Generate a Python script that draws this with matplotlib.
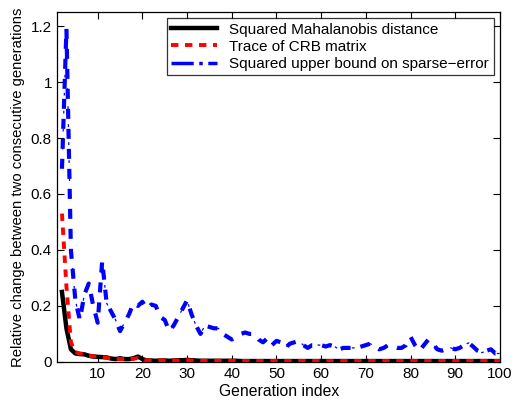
import matplotlib
matplotlib.use("Agg")
import matplotlib.pyplot as plt
from matplotlib.lines import Line2D

plt.rcParams['font.family'] = ['Liberation Sans', 'DejaVu Sans']

generations = list(range(2, 101))

mahalanobis = [
    0.25, 0.12, 0.045, 0.030, 0.028, 0.027, 0.022, 0.019, 0.018,          # 2-10
    0.017, 0.016, 0.012, 0.010, 0.013, 0.010, 0.010, 0.013, 0.019, 0.010,  # 11-20
    0.005, 0.005, 0.004, 0.005, 0.005, 0.004, 0.005, 0.006, 0.006, 0.007,  # 21-30
    0.006, 0.005, 0.004, 0.004, 0.004, 0.004, 0.004, 0.004, 0.004, 0.004,  # 31-40
    0.004, 0.003, 0.003, 0.003, 0.003, 0.003, 0.003, 0.003, 0.003, 0.003,  # 41-50
    0.003, 0.003, 0.003, 0.003, 0.003, 0.003, 0.003, 0.003, 0.003, 0.003,  # 51-60
    0.003, 0.003, 0.003, 0.003, 0.003, 0.003, 0.003, 0.003, 0.003, 0.003,  # 61-70
    0.003, 0.003, 0.003, 0.003, 0.003, 0.003, 0.003, 0.003, 0.003, 0.003,  # 71-80
    0.003, 0.003, 0.003, 0.003, 0.003, 0.003, 0.003, 0.003, 0.003, 0.003,  # 81-90
    0.003, 0.003, 0.003, 0.003, 0.003, 0.003, 0.003, 0.003, 0.003, 0.003,  # 91-100
]

crb_trace = [
    0.53, 0.27, 0.070, 0.035, 0.030, 0.028, 0.022, 0.020, 0.020,          # 2-10
    0.018, 0.015, 0.012, 0.012, 0.010, 0.010, 0.010, 0.011, 0.014, 0.008,  # 11-20
    0.005, 0.005, 0.005, 0.005, 0.005, 0.004, 0.005, 0.005, 0.006, 0.006,  # 21-30
    0.005, 0.005, 0.004, 0.004, 0.004, 0.004, 0.004, 0.004, 0.004, 0.004,  # 31-40
    0.004, 0.003, 0.003, 0.003, 0.003, 0.003, 0.003, 0.003, 0.003, 0.003,  # 41-50
    0.003, 0.003, 0.003, 0.003, 0.003, 0.003, 0.003, 0.003, 0.003, 0.003,  # 51-60
    0.003, 0.003, 0.003, 0.003, 0.003, 0.003, 0.003, 0.003, 0.003, 0.003,  # 61-70
    0.003, 0.003, 0.003, 0.003, 0.003, 0.003, 0.003, 0.003, 0.003, 0.003,  # 71-80
    0.003, 0.003, 0.003, 0.003, 0.003, 0.003, 0.003, 0.003, 0.003, 0.003,  # 81-90
    0.003, 0.003, 0.003, 0.003, 0.003, 0.003, 0.003, 0.003, 0.003, 0.003,  # 91-100
]

sparse_bound = [
    0.69, 1.19, 0.40, 0.22, 0.15, 0.24, 0.28, 0.20, 0.14,                 # 2-10
    0.36, 0.21, 0.18, 0.15, 0.11, 0.14, 0.17, 0.21, 0.20, 0.215,          # 11-20
    0.19, 0.205, 0.20, 0.16, 0.15, 0.11, 0.13, 0.16, 0.19, 0.22,          # 21-30
    0.17, 0.13, 0.10, 0.13, 0.125, 0.12, 0.12, 0.10, 0.09, 0.08,          # 31-40
    0.09, 0.10, 0.105, 0.10, 0.10, 0.08, 0.07, 0.085, 0.06, 0.075,        # 41-50
    0.07, 0.05, 0.065, 0.07, 0.075, 0.06, 0.05, 0.06, 0.06, 0.06,         # 51-60
    0.055, 0.06, 0.055, 0.045, 0.05, 0.05, 0.05, 0.05, 0.055, 0.06,       # 61-70
    0.065, 0.055, 0.045, 0.05, 0.06, 0.055, 0.05, 0.05, 0.06, 0.09,       # 71-80
    0.06, 0.04, 0.06, 0.08, 0.065, 0.045, 0.04, 0.045, 0.05, 0.045,       # 81-90
    0.05, 0.06, 0.068, 0.055, 0.04, 0.033, 0.04, 0.045, 0.03, 0.03,       # 91-100
]

series_labels = [
    "Squared Mahalanobis distance",
    "Trace of CRB matrix",
    "Squared upper bound on sparse\u2212error",
]

fig = plt.figure(figsize=(5.18, 4.03), dpi=100)
ax = fig.add_axes([0.111, 0.102, 0.854, 0.868])

# Dash-dot curve: thick dashes with thin dots between them
ax.plot(generations, sparse_bound, color="#0000ff", lw=3.0,
        linestyle=(0, (2.4, 2.4)), zorder=2)
ax.plot(generations, sparse_bound, color="#0000ff", lw=0.9,
        linestyle=(4.0 * 3.0 / 0.9, (2.2, 12.2)), zorder=2)

ax.plot(generations, mahalanobis, color="black", lw=3.2, zorder=3)
ax.plot(generations, crb_trace, color="#ff0000", lw=2.8,
        linestyle=(0, (1.9, 1.7)), zorder=4)

ax.set_xlim(1, 100)
ax.set_ylim(0, 1.25)
ax.set_xticks([10, 20, 30, 40, 50, 60, 70, 80, 90, 100])
ax.set_yticks([0, 0.2, 0.4, 0.6, 0.8, 1.0, 1.2])
ax.set_yticklabels(["0", "0.2", "0.4", "0.6", "0.8", "1", "1.2"])
ax.tick_params(direction="in", top=True, right=True, length=5,
               width=0.8, labelsize=11, pad=4)
for s in ax.spines.values():
    s.set_linewidth(0.9)

ax.set_xlabel("Generation index", fontsize=11.3, labelpad=2)
ax.set_ylabel("Relative change between two consecutive generations",
              fontsize=10.7, labelpad=4)

handles = [
    Line2D([], [], color="black", lw=3.2),
    Line2D([], [], color="#ff0000", lw=2.8, linestyle=(0, (1.9, 1.7))),
    Line2D([], [], color="#0000ff", lw=2.5, linestyle="-."),
]
leg = ax.legend(handles, series_labels, loc="upper right", fontsize=11,
                frameon=True, fancybox=False, edgecolor="black",
                borderaxespad=0.4, handlelength=3.0, labelspacing=0.2,
                borderpad=0.3, handletextpad=0.8)
leg.get_frame().set_linewidth(0.9)

fig.savefig("out.png", dpi=100)
